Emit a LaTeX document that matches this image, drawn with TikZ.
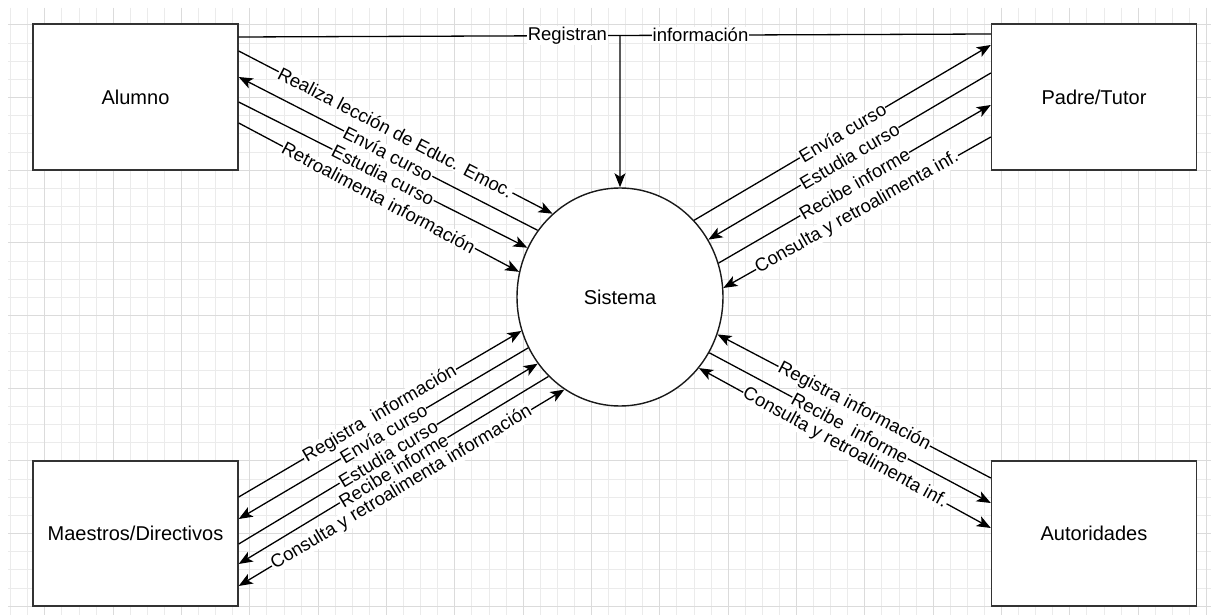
\documentclass[tikz,border=0pt]{standalone}
\usepackage{fontspec}
\setmainfont{Liberation Sans}
\usetikzlibrary{arrows.meta,shapes.geometric,calc}

\newcommand{\boxfont}{\fontsize{20}{24}\selectfont}
\newcommand{\flowfont}{\fontsize{18.5}{21}\selectfont}

\begin{document}
\begin{tikzpicture}[x=1pt,y=-1pt,
  entity/.style={draw=black!80, line width=1.4pt, fill=white,
    minimum width=205pt, minimum height=146pt, inner sep=0pt, font=\boxfont},
  proc/.style={ellipse, draw=black!90, line width=1.4pt, fill=white,
    minimum width=206pt, minimum height=218pt, inner sep=0pt, font=\boxfont},
  tip/.tip={Stealth[length=14pt,width=11pt,inset=3.5pt]},
  flow/.style={line width=1.3pt, -tip},
  twoway/.style={line width=1.3pt, tip-tip},
  plain/.style={line width=1.3pt},
  lbl/.style={midway, sloped, fill=white, inner sep=0.6pt, font=\flowfont},
  toplbl/.style={fill=white, inner sep=1pt, font=\flowfont},
  gridminor/.style={draw=black!8, line width=0.6pt},
  gridmajor/.style={draw=black!14, line width=0.8pt}]

% canvas and background grid
\fill[white] (0,0) rectangle (1211,615);
\useasboundingbox (0,0) rectangle (1211,615);
\foreach \i in {-2,...,68}
  \draw[gridminor] ({44.7+\i*17.083},8) -- ({44.7+\i*17.083},615);
\foreach \j in {0,...,32}
  \draw[gridminor] (8,{24.7+\j*18.167}) -- (1211,{24.7+\j*18.167});
\foreach \i in {0,4,...,68}
  \draw[gridmajor] ({44.7+\i*17.083},8) -- ({44.7+\i*17.083},615);
\foreach \j in {0,4,...,32}
  \draw[gridmajor] (8,{24.7+\j*18.167}) -- (1211,{24.7+\j*18.167});

% entities and process
\node[entity] (alumno) at (135.5,97) {Alumno};
\node[entity] (padre) at (1094,97) {Padre/Tutor};
\node[entity, minimum height=145pt] (maestros) at (135.5,533.5) {Maestros/Directivos};
\node[entity, minimum height=145pt] (autoridades) at (1094,533.5) {Autoridades};
\node[proc] (sistema) at (620,297) {Sistema};

% shared registration line
\draw[plain] (alumno.east |- 0,37) -- (padre.west |- 0,34)
  node[toplbl, pos=0.437] {Registran}
  coordinate[pos=0.507] (junc)
  node[toplbl, pos=0.614] {información};
\draw[flow] (junc) -- (sistema);

% Alumno <-> Sistema
\draw[flow] (alumno.east |- 0,51) -- (sistema.129.7) node[lbl] {Realiza lección de Educ. Emoc.};
\draw[flow] (sistema.141.9) -- (alumno.east |- 0,77) node[lbl] {Envía curso};
\draw[flow] (alumno.east |- 0,102) -- (sistema.152.7) node[lbl] {Estudia curso};
\draw[flow] (alumno.east |- 0,123) -- (sistema.166) node[lbl] {Retroalimenta información};

% Padre/Tutor <-> Sistema
\draw[flow] (sistema.46.5) -- (padre.west |- 0,45) node[lbl] {Envía curso};
\draw[flow] (padre.west |- 0,73) -- (sistema.33.1) node[lbl] {Estudia curso};
\draw[flow] (sistema.19.1) -- (padre.west |- 0,105) node[lbl] {Recibe informe};
\draw[flow] (padre.west |- 0,137) -- (sistema.5) node[lbl] {Consulta y retroalimenta inf.};

% Maestros/Directivos <-> Sistema
\draw[flow] (maestros.east |- 0,497) -- (sistema.199.7) node[lbl] {Registra\ \ información};
\draw[flow] (sistema.209.2) -- (maestros.east |- 0,519) node[lbl] {Envía curso};
\draw[flow] (maestros.east |- 0,544) -- (sistema.219.7) node[lbl] {Estudia curso};
\draw[flow] (sistema.228.7) -- (maestros.east |- 0,564) node[lbl] {Recibe informe};
\draw[twoway] (maestros.east |- 0,586) -- (sistema.239) node[lbl] {Consulta y retroalimenta información};

% Autoridades <-> Sistema
\draw[flow] (autoridades.west |- 0,478) -- (sistema.339.2) node[lbl] {Registra información};
\draw[flow] (sistema.328) -- (autoridades.west |- 0,503) node[lbl] {Recibe\ \ informe};
\draw[twoway] (sistema.318.8) -- (autoridades.west |- 0,528) node[lbl] {Consulta y retroalimenta inf.};
\end{tikzpicture}
\end{document}
